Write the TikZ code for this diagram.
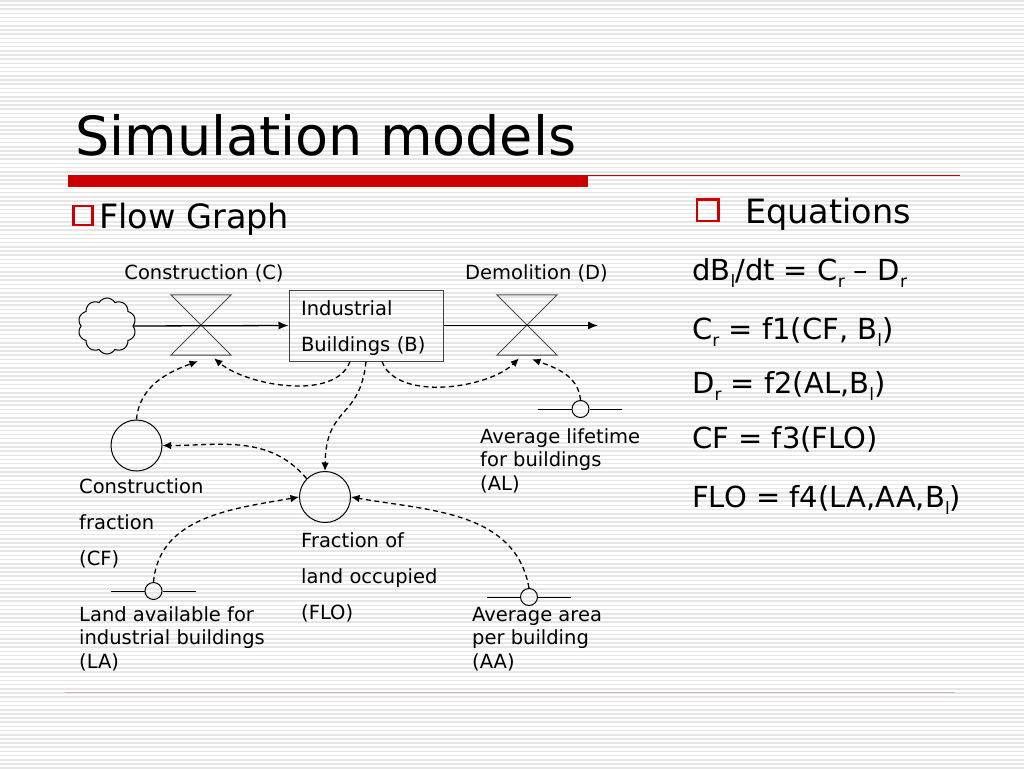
\documentclass[tikz,border=0pt]{standalone}
\usepackage{fontspec}
\setmainfont{DejaVu Sans}
\usetikzlibrary{arrows.meta,shapes.symbols}
\newcommand{\sbs}[1]{\raisebox{-0.25em}{\fontsize{17}{17}\selectfont #1}}
\definecolor{slidered}{HTML}{CC0000}
\definecolor{stripe}{HTML}{E6E6E6}
\definecolor{footline}{HTML}{D2B4B4}
\begin{document}
\begin{tikzpicture}[x=1pt,y=-1pt,
  lbl/.style={inner sep=0, font=\fontsize{19.5}{23.5}\selectfont, align=left, anchor=base west},
  widelbl/.style={lbl, font=\fontsize{19.5}{36}\selectfont},
  toplbl/.style={inner sep=0, font=\fontsize{19.5}{23.5}\selectfont, anchor=base},
  flow/.style={line width=1.3pt, -{Latex[length=10pt,width=8pt]}},
  info/.style={line width=1.3pt, dash pattern=on 5pt off 3.5pt, -{Latex[length=8.5pt,width=7.5pt]}},
  valve/.style={minimum width=60pt, minimum height=60pt, inner sep=0},
  valvelines/.style={draw=black!70, line width=1pt},
  aux/.style={circle, draw, line width=1pt, minimum size=51pt, inner sep=0},
  const/.style={circle, draw, line width=1pt, minimum size=17pt, inner sep=0},
  constline/.style={line width=1pt},
  eq/.style={inner sep=0, anchor=base west, font=\fontsize{29}{29}\selectfont},
  head/.style={inner sep=0, anchor=base west, font=\fontsize{33.5}{33.5}\selectfont},
  bullet/.style={draw=slidered, line width=2.5pt}
]
\useasboundingbox (0,0) rectangle (1024,768);
\fill[white] (0,0) rectangle (1024,768);
\foreach \i in {0,...,184} \fill[stripe] (0,{\i*4.17}) rectangle (1024,{\i*4.17+1.6});

% title and rules
\node[inner sep=0, anchor=base west, font=\fontsize{54}{54}\selectfont] (title) at (75,155) {Simulation models};
\fill[slidered] (68,175) rectangle (588,187);
\draw[slidered, line width=1pt] (588,175.5) -- (960,175.5);
\draw[footline, line width=1pt] (65,692) -- (955,692);

% headings
\draw[bullet] (73.5,206) rectangle (92.5,225);
\node[head] (flowhdr) at (99,228) {Flow Graph};
\draw[bullet] (697,199.5) rectangle (718.5,221);
\node[head] (eqhdr) at (745,223) {Equations};

% equations
\node[eq] (e1) at (692,280) {dB\sbs{l}/dt = C\sbs{r} – D\sbs{r}};
\node[eq] (e2) at (692,339) {C\sbs{r} = f1(CF, B\sbs{l})};
\node[eq] (e3) at (692,393) {D\sbs{r} = f2(AL,B\sbs{l})};
\node[eq] (e4) at (692,448) {CF = f3(FLO)};
\node[eq] (e5) at (692,507) {FLO = f4(LA,AA,B\sbs{l})};

% stock-flow structure
\node[cloud, draw, line width=1pt, cloud puffs=10, cloud puff arc=120, aspect=1, minimum width=58pt, minimum height=56pt, inner sep=0] (src) at (107,326) {};
\node[valve] (C) at (201,325) {};
\draw[valvelines] (C.north west) -- (C.north east) -- (C.south west) -- (C.south east) -- cycle;
\node[draw=black!75, line width=1pt, minimum width=154pt, minimum height=71pt, inner sep=0, text width=130pt, align=left, font=\fontsize{19.5}{36}\selectfont] (B) at (366,325.5) {\rule{0pt}{21pt}Industrial\\Buildings (B)};
\node[valve] (D) at (527,325) {};
\draw[valvelines] (D.north west) -- (D.north east) -- (D.south west) -- (D.south east) -- cycle;
\coordinate (sink) at (598,325.5);
\draw[flow] (src.east) -- (B.west);
\draw[flow] (B.east) -- (sink);

\node[toplbl] (Clbl) at (204,279) {Construction (C)};
\node[toplbl] (Dlbl) at (536.5,279) {Demolition (D)};

% auxiliaries and constants
\node[aux] (CF) at (136.5,445.5) {};
\node[aux] (FLO) at (325,497) {};
\node[const] (AL) at (580.5,409) {};
\node[const] (LA) at (153.5,591) {};
\node[const] (AA) at (529,597) {};
\draw[constline] (538,409) -- (AL.west) (AL.east) -- (622,409);
\draw[constline] (111,591) -- (LA.west) (LA.east) -- (196,591);
\draw[constline] (487,597) -- (AA.west) (AA.east) -- (571,597);

\node[widelbl] (CFlbl) at (79,565) {Construction\\fraction\\(CF)};
\node[widelbl] (FLOlbl) at (301,619) {Fraction of\\land occupied\\(FLO)};
\node[lbl] (ALlbl) at (480,490) {Average lifetime\\for buildings\\(AL)};
\node[lbl] (LAlbl) at (79,668) {Land available for\\industrial buildings\\(LA)};
\node[lbl] (AAlbl) at (472,668) {Average area\\per building\\(AA)};

% information links
\draw[info] ([xshift=-16pt]B.south) to[out=250,in=-40,looseness=0.8] ([xshift=13pt,yshift=-3pt]C.south);
\draw[info] (CF.north) to[out=85,in=200] ([xshift=-3pt,yshift=-6pt]C.south);
\draw[info] ([xshift=16pt]B.south) to[out=-70,in=225,looseness=0.8] ([xshift=-8pt,yshift=-3pt]D.south);
\draw[info] (AL.north) to[out=95,in=-20] ([xshift=5pt,yshift=-4pt]D.south);
\draw[info] (B.south) .. controls (360,420) and (326,405) .. (FLO.north);
\draw[info] (FLO.135) to[out=130,in=0] (CF.east);
\draw[info] (LA.north) to[out=85,in=190] (FLO.west);
\draw[info] (AA.north) to[out=100,in=-10] (FLO.east);
\end{tikzpicture}
\end{document}
